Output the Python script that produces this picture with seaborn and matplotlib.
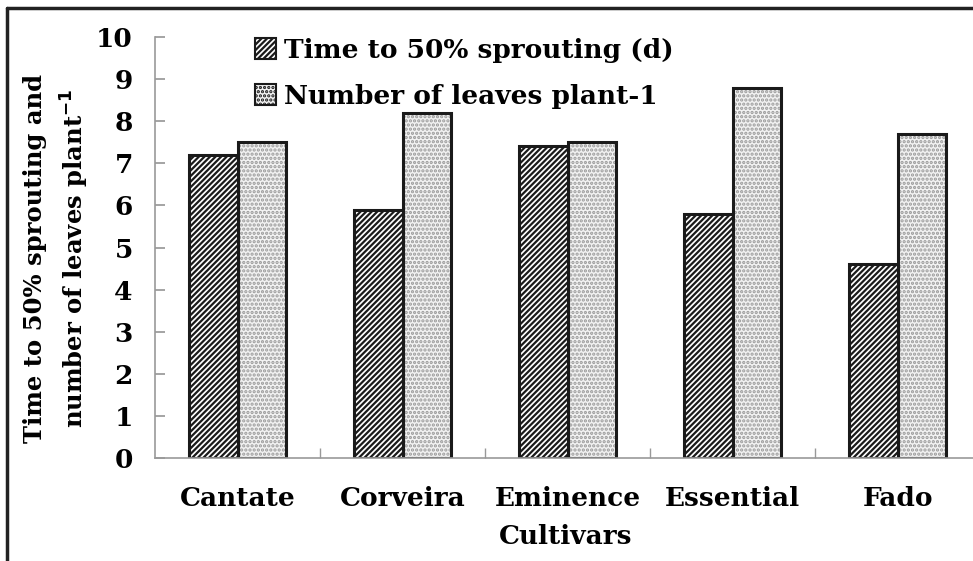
import matplotlib
matplotlib.use("Agg")
import matplotlib.pyplot as plt
import seaborn as sns
import pandas as pd
from matplotlib.lines import Line2D
from matplotlib.patches import Patch

cultivars = ["Cantate", "Corveira", "Eminence", "Essential", "Fado"]
series_names = ["Time to 50% sprouting (d)", "Number of leaves plant-1"]
time_to_sprout = [7.2, 5.9, 7.4, 5.8, 4.6]
leaves_per_plant = [7.5, 8.2, 7.5, 8.8, 7.7]
y_ticks = [0, 1, 2, 3, 4, 5, 6, 7, 8, 9, 10]

df = pd.DataFrame({
    "Cultivar": cultivars * 2,
    "Series": [series_names[0]] * len(cultivars) + [series_names[1]] * len(cultivars),
    "Value": time_to_sprout + leaves_per_plant,
})

sns.set_theme(style="white")
plt.rcParams["font.family"] = ["DejaVu Serif"]
plt.rcParams["font.weight"] = "bold"
plt.rcParams["text.color"] = "black"
plt.rcParams["xtick.color"] = "black"
plt.rcParams["ytick.color"] = "black"
plt.rcParams["hatch.linewidth"] = 1.6

W, H = 973, 561
fig = plt.figure(figsize=(W / 100, H / 100), dpi=100)
ax = fig.add_axes([155 / W, 1 - 458 / H, 825 / W, (458 - 37) / H])

common = dict(data=df, x="Cultivar", y="Value", hue="Series", order=cultivars,
              hue_order=series_names, width=0.59, saturation=1, ax=ax, legend=False)
sns.barplot(palette=["white", "#f2f2f2"], linewidth=0, **common)

hatches = ["//////", "...."]
hatch_cols = ["#1a1a1a", "#9a9a9a"]
for cont, hp, hc in zip(ax.containers, hatches, hatch_cols):
    for bar in cont:
        bar.set_hatch(hp)
        bar.set_edgecolor(hc)
        bar.set_linewidth(0)

# outlines on top
sns.barplot(fill=False, palette=["#1a1a1a", "#1a1a1a"], linewidth=2.2, **common)

ax.set_xlim(-0.5, 4.5)
ax.set_ylim(0, 10)
ax.set_yticks(y_ticks)
ax.set_yticklabels([str(t) for t in y_ticks], fontsize=19, fontweight="bold")
ax.set_xticks(range(len(cultivars)))
ax.set_xticklabels(cultivars, fontsize=19, fontweight="bold")
ax.set_xticks([0.5, 1.5, 2.5, 3.5, 4.5], minor=True)
ax.tick_params(axis="x", which="major", length=0, pad=20)
ax.tick_params(axis="x", which="minor", direction="in", length=7, color="#999999", bottom=True)
ax.tick_params(axis="y", direction="in", length=7, color="#999999", left=True, pad=16)
for s in ["top", "right"]:
    ax.spines[s].set_visible(False)
for s in ["left", "bottom"]:
    ax.spines[s].set_color("#999999")
    ax.spines[s].set_linewidth(1.2)
ax.set_xlabel("")
ax.set_ylabel("")

fig.text(566 / W, 1 - 537 / H, "Cultivars", ha="center", va="center",
         fontsize=19, fontweight="bold")
fig.text(57 / W, 1 - 258 / H, "Time to 50% sprouting and\nnumber of leaves plant$^{\\mathbf{-1}}$",
         rotation=90, ha="center", va="center", fontsize=17.5, fontweight="bold",
         linespacing=1.45)

handles = [Patch(facecolor="white", edgecolor="#1a1a1a", hatch="//////", linewidth=1.5),
           Patch(facecolor="#f2f2f2", edgecolor="#1a1a1a", hatch="....", linewidth=1.5)]
leg = ax.legend(handles=handles, labels=series_names, loc="upper left",
                bbox_to_anchor=((231 - 155) / 825, 1.055), frameon=False,
                prop={"size": 19, "weight": "bold"}, handlelength=0.8,
                handleheight=0.8, handletextpad=0.3, labelspacing=0.8)

fig.add_artist(Line2D([7 / W, 1], [1 - 8 / H, 1 - 8 / H], color="#222222", lw=2.5,
                      transform=fig.transFigure))
fig.add_artist(Line2D([7 / W, 7 / W], [0, 1 - 8 / H], color="#222222", lw=2.5,
                      transform=fig.transFigure))

fig.savefig("out.png", dpi=100)
